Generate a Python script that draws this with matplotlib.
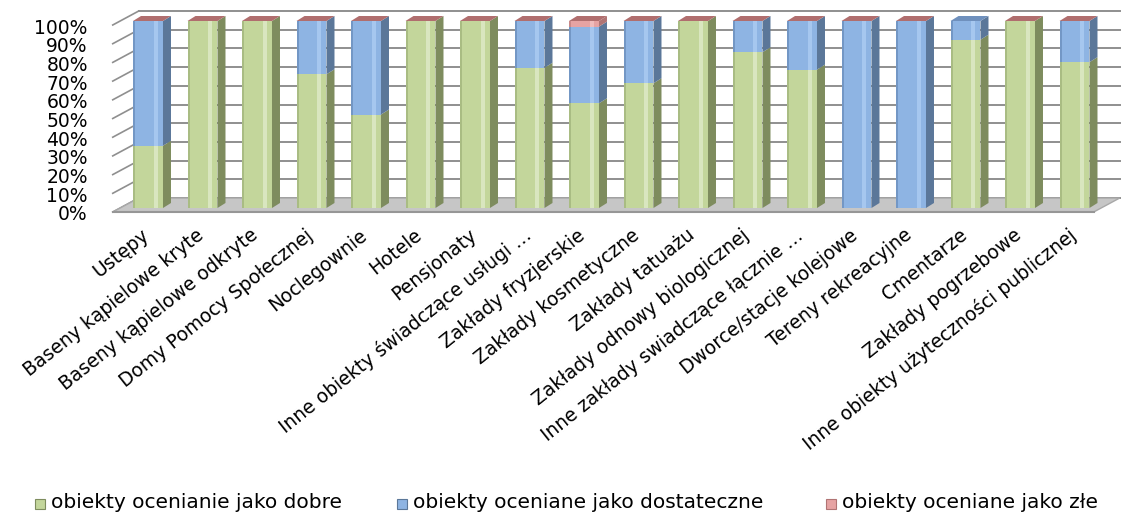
import matplotlib
matplotlib.use("Agg")
import matplotlib.pyplot as plt
import numpy as np
from matplotlib.patches import Polygon, Rectangle
from matplotlib.transforms import offset_copy

categories = [
    "Ustępy",
    "Baseny kąpielowe kryte",
    "Baseny kąpielowe odkryte",
    "Domy Pomocy Społecznej",
    "Noclegownie",
    "Hotele",
    "Pensjonaty",
    "Inne obiekty świadczące usługi …",
    "Zakłady fryzjerskie",
    "Zakłady kosmetyczne",
    "Zakłady tatuażu",
    "Zakłady odnowy biologicznej",
    "Inne zakłady swiadczące łącznie …",
    "Dworce/stacje kolejowe",
    "Tereny rekreacyjne",
    "Cmentarze",
    "Zakłady pogrzebowe",
    "Inne obiekty użyteczności publicznej",
]
dobre = [33.3, 100, 100, 71.5, 50, 100, 100, 75, 56, 66.7, 100, 83.3, 74, 0, 0, 90, 100, 78]
dostateczne = [66.7, 0, 0, 28.5, 50, 0, 0, 25, 41, 33.3, 0, 16.7, 26, 100, 100, 10, 0, 22]
zle = [0, 0, 0, 0, 0, 0, 0, 0, 3, 0, 0, 0, 0, 0, 0, np.nan, 0, 0]
series_names = [
    "obiekty ocenianie jako dobre",
    "obiekty oceniane jako dostateczne",
    "obiekty oceniane jako złe",
]
y_ticks = list(range(0, 101, 10))

# face colours: front, highlight stripe, left edge, side, top
styles = [
    dict(front="#c3d69b", light="#d9e6bf", dark="#a9bc83", side="#7e8c5e", cap="#a2b37a"),
    dict(front="#8eb4e3", light="#a6c7ef", dark="#7397c5", side="#5b7799", cap="#6f90bd"),
    dict(front="#e6a3a3", light="#f0bcbc", dark="#c98888", side="#b07474", cap="#b06e6e"),
]

W, H = 1122, 513
PX_X = 54.5   # pixels per category
PX_Y = 1.87   # pixels per percent
X0 = 148      # pixel column of the first category
Y0 = 208      # pixel row (from top) of 0 %

fig = plt.figure(figsize=(W / 100, H / 100), dpi=100)
ax = fig.add_axes([0, 0, 1, 1])
ax.set_xlim(-X0 / PX_X, (W - X0) / PX_X)
ax.set_ylim(-(H - Y0) / PX_Y, Y0 / PX_Y)
ax.axis("off")


def off(dx, dy):
    # screen pixel offset (dy pointing down) -> data offset
    return dx / PX_X, -dy / PX_Y


bar_d = off(8, -5)
wall_f = off(-8, 4)
wall_b = off(18, -10)
xl, xr = -0.5, len(categories) - 0.5
bw = 0.55

# floor
floor = Polygon([(xl + wall_f[0], wall_f[1]), (xr + wall_f[0], wall_f[1]),
                 (xr + wall_b[0], wall_b[1]), (xl + wall_b[0], wall_b[1])],
                closed=True, facecolor="#c6c6c6", edgecolor="#a8a8a8", lw=1.0, zorder=1)
ax.add_patch(floor)
ax.plot([xl + wall_f[0], xr + wall_f[0]], [wall_f[1], wall_f[1]], color="#969696", lw=1.5, zorder=1)

# gridlines on back wall and left wall
for v in y_ticks:
    ax.plot([xl + wall_b[0], xr + wall_b[0]], [v + wall_b[1], v + wall_b[1]],
            color="#8f8f8f", lw=1.4, zorder=0.5)
    ax.plot([xl + wall_f[0], xl + wall_b[0]], [v + wall_f[1], v + wall_b[1]],
            color="#8f8f8f", lw=1.2, zorder=0.5)

x = np.arange(len(categories))
series = [np.array(dobre, float), np.array(dostateczne, float), np.array(zle, float)]
bottom = np.zeros(len(categories))
cap_color = [None] * len(categories)

for vals, st in zip(series, styles):
    ok = ~np.isnan(vals)
    h = np.where(ok, vals, 0)
    ax.bar(x, h, bottom=bottom, width=bw, color=st["front"], lw=0, zorder=3)
    ax.bar(x + bw * 0.26, h, bottom=bottom, width=bw * 0.12, color=st["light"], lw=0, zorder=3)
    ax.bar(x - bw * 0.46, h, bottom=bottom, width=bw * 0.08, color=st["dark"], lw=0, zorder=3)
    for i in x:
        if not ok[i]:
            continue
        cap_color[i] = st["cap"]
        if h[i] <= 0:
            continue
        rx = i + bw / 2
        y0, y1 = bottom[i], bottom[i] + h[i]
        ax.add_patch(Polygon([(rx, y0), (rx + bar_d[0], y0 + bar_d[1]),
                              (rx + bar_d[0], y1 + bar_d[1]), (rx, y1)],
                             closed=True, facecolor=st["side"], lw=0, zorder=3))
    bottom = bottom + h

# top faces
for i in x:
    lx, rx, t = i - bw / 2, i + bw / 2, bottom[i]
    ax.add_patch(Polygon([(lx, t), (rx, t), (rx + bar_d[0], t + bar_d[1]), (lx + bar_d[0], t + bar_d[1])],
                         closed=True, facecolor=cap_color[i], lw=0, zorder=4))

# value axis labels
ytr = offset_copy(ax.transData, fig=fig, x=-33, y=-7, units="dots")
for v in y_ticks:
    ax.text(xl, v, f"{v}%", ha="right", va="center", fontsize=13.5,
            family="DejaVu Sans", transform=ytr)

# category labels
xtr = offset_copy(ax.transData, fig=fig, x=-1, y=-25, units="dots")
for i, name in enumerate(categories):
    ax.text(i, 0, name, rotation=38.5, rotation_mode="anchor", ha="right", va="center",
            fontsize=13.5, family="DejaVu Sans", transform=xtr)

# legend
leg_x = [35, 397, 826]
for lx, name, st in zip(leg_x, series_names, styles):
    fig.patches.append(Rectangle((lx, H - 509), 10, 10, transform=None,
                                 facecolor=st["front"], edgecolor=st["side"], lw=0.8))
    fig.text((lx + 16) / W, (H - 503) / H, name, ha="left", va="center",
             fontsize=14.5, family="DejaVu Sans")

fig.savefig("out.png", dpi=100)
